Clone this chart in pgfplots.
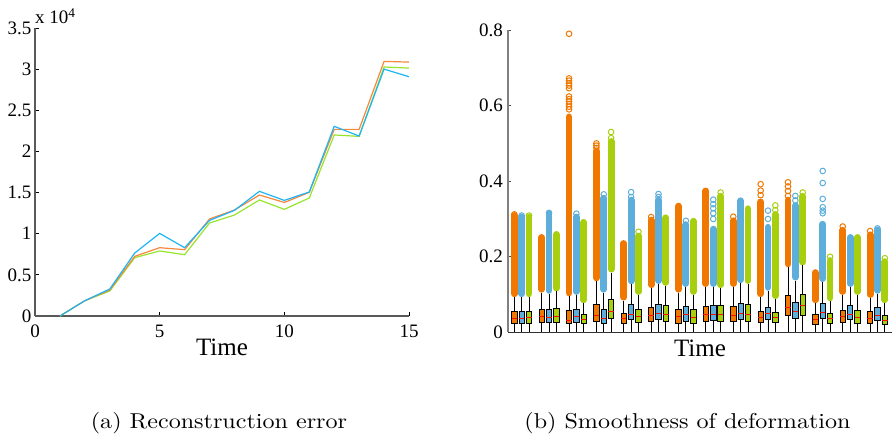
\documentclass[border=0pt]{standalone}
\usepackage{fontspec}
\newfontfamily\timesf{Liberation Serif}
\newfontfamily\lmw[FakeStretch=1.12]{lmroman10-regular.otf}
\usepackage{pgfplots}
\pgfplotsset{compat=1.18}
\usepgfplotslibrary{statistics}
\definecolor{lO}{RGB}{245,136,58}
\definecolor{lB}{RGB}{30,180,245}
\definecolor{lG}{RGB}{150,228,45}
\definecolor{cO}{RGB}{240,120,0}
\definecolor{cB}{RGB}{93,174,219}
\definecolor{cG}{RGB}{168,207,14}
\newcommand{\bx}[6]{\addplot[boxplot/draw direction=y, boxplot prepared={draw position=#2, lower whisker=0, lower quartile=#3, median=#4, upper quartile=#5, upper whisker=#6, box extend=5.4, whisker extend=0}, draw=black, fill=#1, line width=0.8pt] coordinates {};}
\begin{document}
\begin{tikzpicture}
\useasboundingbox (0,0) rectangle (894pt,436pt);
% ---------------- (a) ----------------
\begin{axis}[
  at={(35pt,120pt)}, anchor=south west,
  width=374pt, height=288pt, scale only axis,
  xmin=0, xmax=15, ymin=0, ymax=3.5,
  axis lines=left, axis line style={-, gray!70!black, line width=1.1pt},
  xtick={0,5,10,15}, ytick={0,0.5,1,1.5,2,2.5,3,3.5},
  tick align=inside, major tick length=4pt,
  tick style={black, line width=0.8pt},
  /pgf/number format/assume math mode=true,
  tick label style={font=\fontsize{19}{19}\timesf, inner sep=1pt},
  xticklabel style={yshift=-8pt},
  yticklabel style={xshift=-2.3pt},
  xlabel={Time},
  every axis x label/.style={at={(axis description cs:0.5,0)}, anchor=base, yshift=-40pt, font=\fontsize{25}{25}\timesf},
  clip=false,
]
\addplot[lG, line width=1.2pt] coordinates {(1,0) (2,0.186) (3,0.304) (4,0.709) (5,0.79) (6,0.745) (7,1.13) (8,1.227) (9,1.41) (10,1.296) (11,1.434) (12,2.2) (13,2.183) (14,3.026) (15,3.013)};
\addplot[lO, line width=1.2pt] coordinates {(1,0) (2,0.186) (3,0.316) (4,0.725) (5,0.83) (6,0.806) (7,1.179) (8,1.288) (9,1.47) (10,1.38) (11,1.503) (12,2.268) (13,2.268) (14,3.094) (15,3.086)};
\addplot[lB, line width=1.2pt] coordinates {(1,0) (2,0.186) (3,0.328) (4,0.765) (5,1.004) (6,0.83) (7,1.162) (8,1.284) (9,1.515) (10,1.405) (11,1.507) (12,2.305) (13,2.187) (14,3.0) (15,2.908)};
\node[anchor=base west, inner sep=0pt, font=\fontsize{19}{19}\timesf] at ([yshift=4pt]rel axis cs:0,1) {x 10\textsuperscript{4}};
\end{axis}
% ---------------- (b) ----------------
\begin{axis}[
  at={(508pt,103.7pt)}, anchor=south west,
  width=384pt, height=302.3pt, scale only axis,
  xmin=0, xmax=384, ymin=0, ymax=0.8,
  axis x line=bottom, axis y line=left,
  axis line style={-},
  x axis line style={black!80, line width=1pt},
  y axis line style={gray, line width=1.6pt},
  xtick=\empty, ytick={0,0.2,0.4,0.6,0.8},
  tick align=inside, major tick length=3pt,
  tick style={gray!60!black, line width=0.8pt},
  /pgf/number format/assume math mode=true,
  tick label style={font=\fontsize{19}{19}\timesf, inner sep=1pt},
  yticklabel style={xshift=-4pt},
  xlabel={Time},
  every axis x label/.style={at={(axis description cs:0.5,0)}, anchor=base, yshift=-24pt, font=\fontsize{25}{25}\timesf},
  unbounded coords=jump,
  boxplot/draw direction=y,
  boxplot/every median/.style={draw=red!90!orange, line width=1pt},
  clip=false,
]
% dense outlier columns
\addplot[cO, line width=6.8pt, line cap=round] table[row sep=\\] {
x y\\
6.3 0.102\\ 6.3 0.309\\ nan nan\\
33.67 0.114\\ 33.67 0.251\\ nan nan\\
61.04 0.104\\ 61.04 0.57\\ nan nan\\
88.41 0.144\\ 88.41 0.48\\ nan nan\\
115.78 0.093\\ 115.78 0.235\\ nan nan\\
143.15 0.126\\ 143.15 0.297\\ nan nan\\
170.52 0.114\\ 170.52 0.334\\ nan nan\\
197.89 0.129\\ 197.89 0.374\\ nan nan\\
225.26 0.129\\ 225.26 0.295\\ nan nan\\
252.63 0.102\\ 252.63 0.345\\ nan nan\\
280.0 0.181\\ 280.0 0.35\\ nan nan\\
307.37 0.086\\ 307.37 0.158\\ nan nan\\
334.74 0.108\\ 334.74 0.27\\ nan nan\\
362.11 0.100\\ 362.11 0.258\\
};
\addplot[cB, line width=6.8pt, line cap=round] table[row sep=\\] {
x y\\
13.65 0.102\\ 13.65 0.305\\ nan nan\\
41.02 0.111\\ 41.02 0.314\\ nan nan\\
68.39 0.108\\ 68.39 0.305\\ nan nan\\
95.76 0.114\\ 95.76 0.355\\ nan nan\\
123.13 0.136\\ 123.13 0.35\\ nan nan\\
150.5 0.137\\ 150.5 0.35\\ nan nan\\
177.87 0.129\\ 177.87 0.285\\ nan nan\\
205.24 0.129\\ 205.24 0.273\\ nan nan\\
232.61 0.139\\ 232.61 0.348\\ nan nan\\
259.98 0.119\\ 259.98 0.278\\ nan nan\\
287.35 0.146\\ 287.35 0.335\\ nan nan\\
314.72 0.142\\ 314.72 0.286\\ nan nan\\
342.09 0.129\\ 342.09 0.251\\ nan nan\\
369.46 0.111\\ 369.46 0.271\\
};
\addplot[cG, line width=6.8pt, line cap=round] table[row sep=\\] {
x y\\
21.0 0.102\\ 21.0 0.305\\ nan nan\\
48.37 0.117\\ 48.37 0.259\\ nan nan\\
75.74 0.086\\ 75.74 0.291\\ nan nan\\
103.11 0.167\\ 103.11 0.505\\ nan nan\\
130.48 0.108\\ 130.48 0.255\\ nan nan\\
157.85 0.132\\ 157.85 0.303\\ nan nan\\
185.22 0.108\\ 185.22 0.294\\ nan nan\\
212.59 0.126\\ 212.59 0.36\\ nan nan\\
239.96 0.137\\ 239.96 0.327\\ nan nan\\
267.33 0.097\\ 267.33 0.312\\ nan nan\\
294.7 0.186\\ 294.7 0.36\\ nan nan\\
322.07 0.091\\ 322.07 0.19\\ nan nan\\
349.44 0.108\\ 349.44 0.251\\ nan nan\\
376.81 0.086\\ 376.81 0.187\\
};
% discrete outliers
\addplot[only marks, mark=o, mark size=2.8pt, cO, mark options={line width=1pt}] coordinates {
(6.3,0.312) (61.04,0.59) (61.04,0.597) (61.04,0.604) (61.04,0.611) (61.04,0.617) (61.04,0.624)
(61.04,0.646) (61.04,0.653) (61.04,0.659) (61.04,0.666) (61.04,0.672) (61.04,0.79)
(88.41,0.488) (88.41,0.494) (88.41,0.50) (143.15,0.305) (225.26,0.306)
(252.63,0.363) (252.63,0.375) (252.63,0.392) (280.0,0.361) (280.0,0.374) (280.0,0.386) (280.0,0.397)
(334.74,0.28) (362.11,0.268)};
\addplot[only marks, mark=o, mark size=2.8pt, cB, mark options={line width=1pt}] coordinates {
(13.65,0.309) (41.02,0.316) (68.39,0.314) (95.76,0.365) (123.13,0.358) (123.13,0.371)
(150.5,0.358) (150.5,0.366) (177.87,0.295) (205.24,0.30) (205.24,0.315) (205.24,0.328)
(205.24,0.339) (205.24,0.351) (259.98,0.30) (259.98,0.322) (287.35,0.349) (287.35,0.361)
(314.72,0.315) (314.72,0.322) (314.72,0.331) (314.72,0.353) (314.72,0.395) (314.72,0.427)
(369.46,0.275)};
\addplot[only marks, mark=o, mark size=2.8pt, cG, mark options={line width=1pt}] coordinates {
(21.0,0.309) (103.11,0.514) (103.11,0.53) (130.48,0.266) (212.59,0.37) (267.33,0.323)
(267.33,0.336) (294.7,0.37) (322.07,0.20) (376.81,0.196)};
% boxes: colour, position, q1, median, q3, upper whisker
\bx{cO}{6.3}{0.0225}{0.0375}{0.054}{0.093}
\bx{cB}{13.65}{0.0225}{0.036}{0.054}{0.093}
\bx{cG}{21.0}{0.0225}{0.038}{0.054}{0.093}
\bx{cO}{33.67}{0.026}{0.042}{0.061}{0.105}
\bx{cB}{41.02}{0.026}{0.040}{0.061}{0.102}
\bx{cG}{48.37}{0.027}{0.042}{0.063}{0.108}
\bx{cO}{61.04}{0.0225}{0.031}{0.057}{0.095}
\bx{cB}{68.39}{0.027}{0.042}{0.061}{0.099}
\bx{cG}{75.74}{0.0225}{0.033}{0.048}{0.077}
\bx{cO}{88.41}{0.029}{0.0445}{0.0745}{0.1345}
\bx{cB}{95.76}{0.024}{0.0375}{0.061}{0.105}
\bx{cG}{103.11}{0.036}{0.055}{0.088}{0.158}
\bx{cO}{115.78}{0.0225}{0.0375}{0.051}{0.084}
\bx{cB}{123.13}{0.033}{0.048}{0.073}{0.127}
\bx{cG}{130.48}{0.027}{0.042}{0.060}{0.099}
\bx{cO}{143.15}{0.0295}{0.045}{0.067}{0.117}
\bx{cB}{150.5}{0.035}{0.051}{0.0745}{0.128}
\bx{cG}{157.85}{0.030}{0.047}{0.072}{0.123}
\bx{cO}{170.52}{0.024}{0.042}{0.061}{0.105}
\bx{cB}{177.87}{0.030}{0.046}{0.069}{0.120}
\bx{cG}{185.22}{0.024}{0.039}{0.060}{0.099}
\bx{cO}{197.89}{0.0295}{0.048}{0.068}{0.120}
\bx{cB}{205.24}{0.031}{0.048}{0.072}{0.120}
\bx{cG}{212.59}{0.0295}{0.048}{0.070}{0.117}
\bx{cO}{225.26}{0.0285}{0.044}{0.068}{0.120}
\bx{cB}{232.61}{0.033}{0.051}{0.076}{0.130}
\bx{cG}{239.96}{0.030}{0.048}{0.0745}{0.128}
\bx{cO}{252.63}{0.026}{0.040}{0.056}{0.093}
\bx{cB}{259.98}{0.033}{0.051}{0.067}{0.110}
\bx{cG}{267.33}{0.026}{0.040}{0.053}{0.088}
\bx{cO}{280.0}{0.0437}{0.0666}{0.098}{0.172}
\bx{cB}{287.35}{0.0366}{0.054}{0.080}{0.137}
\bx{cG}{294.7}{0.0454}{0.070}{0.101}{0.177}
\bx{cO}{307.37}{0.0216}{0.035}{0.047}{0.077}
\bx{cB}{314.72}{0.0357}{0.053}{0.077}{0.133}
\bx{cG}{322.07}{0.0234}{0.0375}{0.050}{0.0825}
\bx{cO}{334.74}{0.026}{0.043}{0.0587}{0.099}
\bx{cB}{342.09}{0.033}{0.048}{0.070}{0.120}
\bx{cG}{349.44}{0.024}{0.039}{0.057}{0.099}
\bx{cO}{362.11}{0.023}{0.0375}{0.054}{0.091}
\bx{cB}{369.46}{0.031}{0.044}{0.065}{0.102}
\bx{cG}{376.81}{0.020}{0.031}{0.046}{0.077}
\end{axis}
% captions
\node[anchor=base, inner sep=0pt, font=\fontsize{21.5}{21.5}\lmw] at (219pt,7.7pt) {(a) Reconstruction error};
\node[anchor=base, inner sep=0pt, font=\fontsize{21.5}{21.5}\lmw] at (687.5pt,7.7pt) {(b) Smoothness of deformation};
\end{tikzpicture}
\end{document}
